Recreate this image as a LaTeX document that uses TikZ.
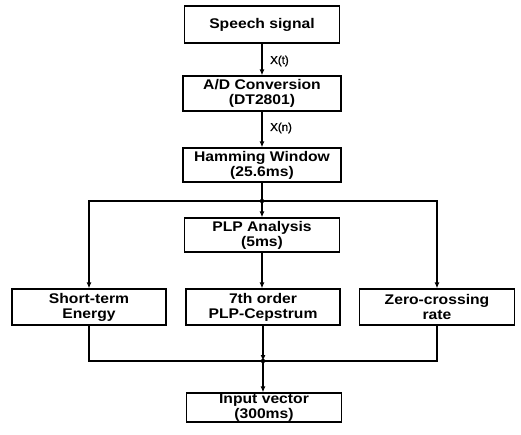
\documentclass[tikz,border=0pt]{standalone}
\usepackage{fontspec}
\setmainfont{Liberation Sans}[FakeStretch=1.12]
\newfontfamily\lblfont{Liberation Sans}[FakeBold=1.2]
\usetikzlibrary{arrows.meta}
\begin{document}
\begin{tikzpicture}[x=1pt,y=-1pt,
  box/.style={draw, line width=1.2pt, minimum width=155pt, inner sep=0pt, align=center,
    font=\fontsize{14}{15}\selectfont\bfseries},
  conn/.style={line width=1.2pt},
  arr/.style={conn, -{Latex[length=6pt,width=5pt]}},
  lbl/.style={font=\lblfont\fontsize{11.5}{12}\selectfont, anchor=west, inner sep=0pt}]
\useasboundingbox (0,0) rectangle (521,434);
\node[box, minimum height=37pt] (speech) at (262,24.5) {Speech signal};
\node[box, minimum width=158pt, minimum height=35pt] (ad) at (262,93.5) {A/D Conversion\\(DT2801)};
\node[box, minimum width=158pt, minimum height=34pt] (ham) at (262,165) {Hamming Window\\(25.6ms)};
\node[box, minimum height=34pt] (plp) at (262,235) {PLP Analysis\\(5ms)};
\node[box, minimum width=154pt, minimum height=36pt] (ste) at (89,307) {Short-term\\Energy};
\node[box, minimum width=154pt, minimum height=36pt] (cep) at (263,307) {7th order\\PLP-Cepstrum};
\node[box, minimum height=36pt] (zcr) at (437,307) {Zero-crossing\\rate};
\node[box, minimum height=29pt] (inp) at (264,407.5) {Input vector\\(300ms)};
\coordinate (j1) at (262,201);
\coordinate (j2) at (263,361);
\draw[arr] (speech.south) -- (speech.south |- ad.north);
\draw[arr] (ad.south) -- (ad.south |- ham.north);
\draw[conn] (ham.south) -- (ham.south |- j1);
\draw[arr] (j1) -- (j1 |- plp.north);
\draw[arr] (j1) -| (ste.north);
\draw[arr] (j1) -| (zcr.north);
\draw[arr] (plp.south) -- (plp.south |- cep.north);
\draw[conn] (ste.south) |- (j2);
\draw[conn] (zcr.south) |- (j2);
\draw[arr] (cep.south -| j2) -- (j2);
\draw[arr] (j2) -- (j2 |- inp.north);
\fill (j1) circle (2.2pt);
\fill (j2) circle (2.2pt);
\node[lbl] (xt) at (270,61) {X(t)};
\node[lbl] (xn) at (270,128) {X(n)};
\end{tikzpicture}
\end{document}
